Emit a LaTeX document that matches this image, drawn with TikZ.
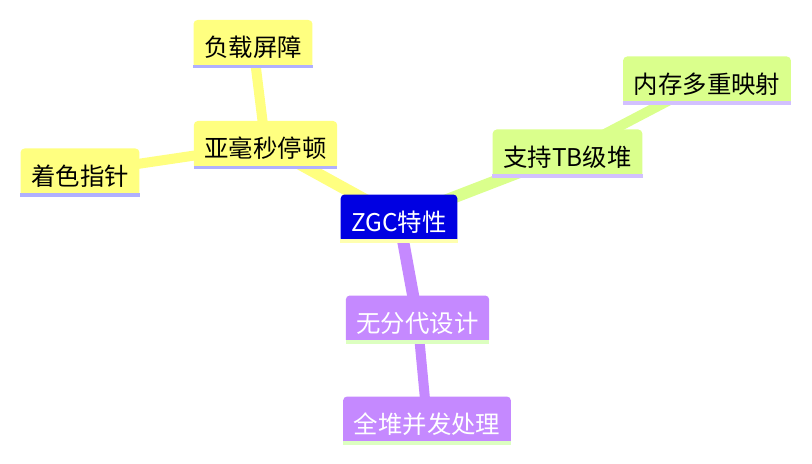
\documentclass[tikz,border=0pt]{standalone}
\usepackage{fontspec}
\newfontfamily\cjk{Noto Sans CJK SC}
\usetikzlibrary{backgrounds}

\definecolor{rootblue}{RGB}{0,0,226}
\definecolor{rootline}{RGB}{255,255,176}
\definecolor{branchyellow}{RGB}{255,255,128}
\definecolor{branchgreen}{RGB}{218,255,140}
\definecolor{branchpurple}{RGB}{197,137,255}
\definecolor{lineblue}{RGB}{176,176,255}
\definecolor{linelilac}{RGB}{210,192,255}
\definecolor{linemint}{RGB}{220,255,192}

\tikzset{
    topic/.style={font=\cjk\fontsize{18.3}{20}\selectfont, inner xsep=8pt, inner ysep=0pt,
        text height=27.5pt, text depth=8.5pt, rounded corners=3pt},
    root/.style={topic, fill=rootblue, text=white},
    yellowtopic/.style={topic, fill=branchyellow, text=black},
    greentopic/.style={topic, fill=branchgreen, text=black},
    purpletopic/.style={topic, fill=branchpurple, text=white},
    mainlink/.style={line width=9pt},
    sublink/.style={line width=7.5pt}
}

\begin{document}
\begin{tikzpicture}[x=0.75pt, y=-0.75pt]
    \useasboundingbox (0, 0) rectangle (812, 463);

    % Draw the topics
    \node[root] (zgc) at (399, 218.5) {ZGC特性};
    \node[yellowtopic] (pause) at (265.5, 145) {亚毫秒停顿};
    \node[yellowtopic] (barrier) at (253, 44) {负载屏障};
    \node[yellowtopic] (pointer) at (80, 172.5) {着色指针};
    \node[greentopic] (heap) at (567.5, 153.5) {支持TB级堆};
    \node[greentopic] (mapping) at (707, 80.5) {内存多重映射};
    \node[purpletopic] (nogen) at (417.5, 319.5) {无分代设计};
    \node[purpletopic] (concurrent) at (427, 420.5) {全堆并发处理};

    % Add the underlines
    \fill[rootline] (zgc.south west) rectangle ([yshift=2.5pt]zgc.south east);
    \fill[lineblue] (pause.south west) rectangle ([yshift=2.5pt]pause.south east);
    \fill[lineblue] (barrier.south west) rectangle ([yshift=2.5pt]barrier.south east);
    \fill[lineblue] (pointer.south west) rectangle ([yshift=2.5pt]pointer.south east);
    \fill[linelilac] (heap.south west) rectangle ([yshift=2.5pt]heap.south east);
    \fill[linelilac] (mapping.south west) rectangle ([yshift=2.5pt]mapping.south east);
    \fill[linemint] (nogen.south west) rectangle ([yshift=2.5pt]nogen.south east);
    \fill[linemint] (concurrent.south west) rectangle ([yshift=2.5pt]concurrent.south east);

    % Connect the branches behind the topics
    \begin{scope}[on background layer]
        \draw[mainlink, branchyellow] (zgc.center) -- (pause.center);
        \draw[sublink, branchyellow] (pause.center) -- (barrier.center);
        \draw[sublink, branchyellow] (pause.center) -- (pointer.center);
        \draw[mainlink, branchgreen] (zgc.center) -- (heap.center);
        \draw[sublink, branchgreen] (heap.center) -- (mapping.center);
        \draw[mainlink, branchpurple] (zgc.center) -- (nogen.center);
        \draw[sublink, branchpurple] (nogen.center) -- (concurrent.center);
    \end{scope}
\end{tikzpicture}
\end{document}
